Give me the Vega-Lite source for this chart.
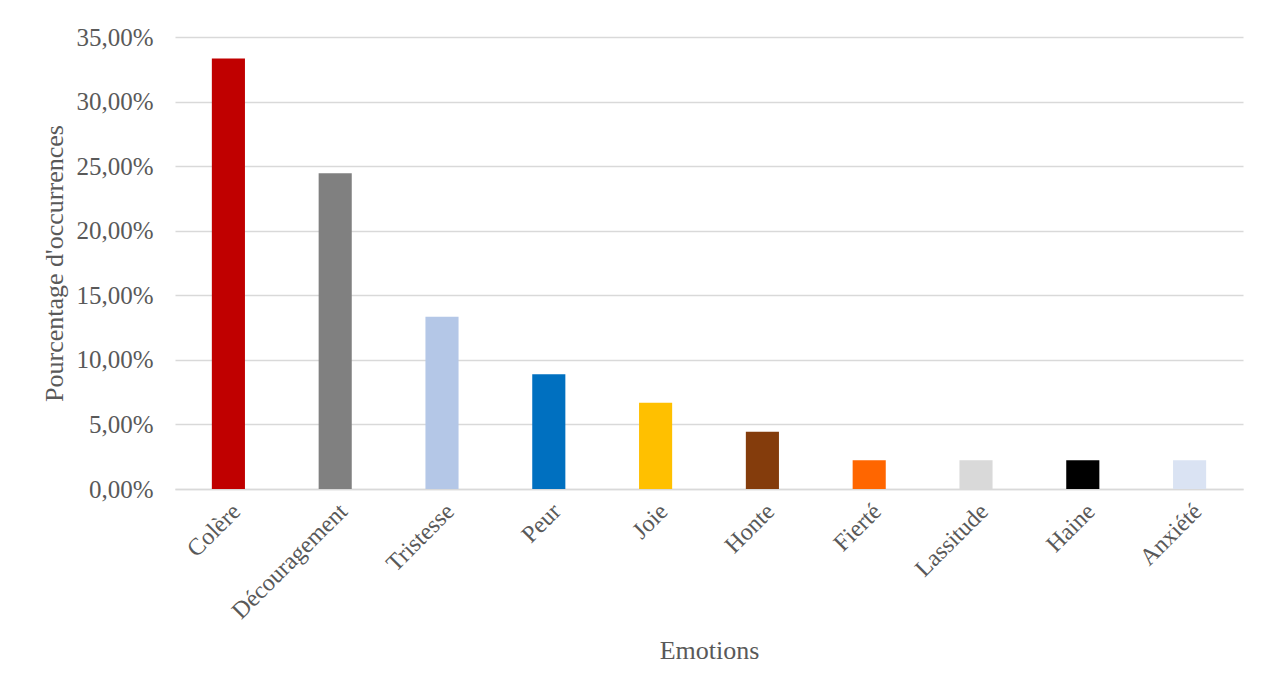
{
  "$schema": "https://vega.github.io/schema/vega-lite/v6.json",
  "width": 1068,
  "height": 452,
  "autosize": {"type": "none"},
  "padding": {"left": 175, "top": 37, "right": 30, "bottom": 208},
  "background": "white",
  "config": {
    "locale": {"number": {"decimal": ",", "thousands": " ", "grouping": [3], "currency": ["", " €"]}},
    "font": "Liberation Serif",
    "view": {"stroke": null},
    "axis": {"labelFont": "Liberation Serif", "titleFont": "Liberation Serif", "labelColor": "#595959", "titleColor": "#595959", "titleFontWeight": "normal"}
  },
  "data": {"values": [
    {"emotion": "Colère", "pct": 0.3333, "color": "#C00000"},
    {"emotion": "Découragement", "pct": 0.2444, "color": "#808080"},
    {"emotion": "Tristesse", "pct": 0.1333, "color": "#B4C7E7"},
    {"emotion": "Peur", "pct": 0.0889, "color": "#0070C0"},
    {"emotion": "Joie", "pct": 0.0667, "color": "#FFC000"},
    {"emotion": "Honte", "pct": 0.0444, "color": "#843C0C"},
    {"emotion": "Fierté", "pct": 0.0222, "color": "#FF6600"},
    {"emotion": "Lassitude", "pct": 0.0222, "color": "#D9D9D9"},
    {"emotion": "Haine", "pct": 0.0222, "color": "#000000"},
    {"emotion": "Anxiété", "pct": 0.0222, "color": "#DAE3F3"}
  ]},
  "mark": {"type": "bar"},
  "encoding": {
    "x": {
      "field": "emotion", "type": "nominal", "sort": null,
      "scale": {"paddingInner": 0.69, "paddingOuter": 0.345},
      "axis": {
        "title": "Emotions", "titleFontSize": 26, "titlePadding": 14,
        "labelAngle": -45, "labelFontSize": 24, "labelPadding": 10,
        "ticks": false, "domain": true, "domainColor": "#d9d9d9", "domainWidth": 1.5, "grid": false
      }
    },
    "y": {
      "field": "pct", "type": "quantitative",
      "scale": {"domain": [0, 0.35], "nice": false},
      "axis": {
        "title": "Pourcentage d'occurrences", "titleFontSize": 26, "titlePadding": 8,
        "format": ".2%", "values": [0, 0.05, 0.1, 0.15, 0.2, 0.25, 0.3, 0.35],
        "labelFontSize": 25, "labelPadding": 22, "ticks": false, "domain": false,
        "grid": true, "gridColor": "#d9d9d9", "gridWidth": 1.5
      }
    },
    "color": {"field": "color", "type": "nominal", "scale": null, "legend": null}
  }
}
